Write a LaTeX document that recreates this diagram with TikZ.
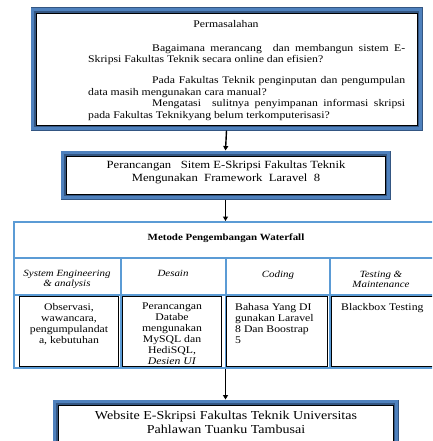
\documentclass[tikz,border=0pt]{standalone}
\usepackage{fontspec}
\setmainfont[FakeStretch=1.15]{Liberation Serif}
\usetikzlibrary{positioning,arrows.meta}
\definecolor{frameblue}{RGB}{79,129,189}
\definecolor{framedark}{RGB}{52,86,130}
\definecolor{wfblue}{RGB}{91,155,213}

\begin{document}
\begin{tikzpicture}[x=1pt,y=-1pt,
    framed/.style={draw=black,fill=white,line width=0.9pt,outer sep=5.5pt,
        preaction={draw=framedark,line width=11pt},
        preaction={draw=frameblue,line width=9.5pt},
        preaction={draw=framedark,line width=4pt}},
    wfline/.style={draw=wfblue,line width=2pt},
    cell/.style={draw=black,fill=white,line width=1pt,anchor=north west,inner sep=0pt},
    txt/.style={inner sep=0pt,font=\fontsize{10.2}{11}\selectfont},
    head/.style={txt,align=center,anchor=north,font=\fontsize{9.5}{10}\selectfont\itshape},
    flow/.style={line width=1.4pt,-{Triangle[length=4.5pt,width=5pt]}}]
    \useasboundingbox (0,0) rectangle (432,441);
    \clip (0,0) rectangle (432,441);
    \node[framed,minimum width=381pt,minimum height=112pt] (problem) at (226.5,69) {};
    \node[txt,anchor=north] (problem-title) at (226,20) {Permasalahan};
    \node[txt,anchor=north west,text width=317pt,align=justify,
        font=\fontsize{10.2}{11.5}\selectfont] (problem-text) at (88,44)
        {\hspace*{64pt}Bagaimana merancang\ \ dan membangun sistem E-\linebreak
        Skripsi Fakultas Teknik secara online dan efisien?\par\vspace{9.5pt}
        \hspace*{64pt}Pada Fakultas Teknik penginputan dan pengumpulan\linebreak
        data masih mengunakan cara manual?\par
        \hspace*{64pt}Mengatasi\ \ sulitnya penyimpanan informasi skripsi\linebreak
        pada Fakultas Teknikyang belum terkomputerisasi?};
    \node[framed,minimum width=319pt,minimum height=38pt] (design) at (225.5,175) {};
    \node[txt,align=center,anchor=north,font=\fontsize{11}{12.5}\selectfont] (design-text)
        at (226,161) {Perancangan\ \ \ Sitem E-Skripsi Fakultas Teknik\\
        Mengunakan\ \ Framework\ \ Laravel\ \ 8};
    \node[wfline,minimum width=446pt,minimum height=146pt,inner sep=0pt] (waterfall)
        at (237,295) {};
    \node[txt,anchor=north,font=\fontsize{9.5}{10}\selectfont\bfseries] (waterfall-title)
        at (226,234) {Metode Pengembangan Waterfall};
    \draw[wfline] (14,258) -- (460,258);
    \draw[wfline] (14,295) -- (460,295);
    \foreach \x in {121,226,330}
        \draw[wfline] (\x,258) -- (\x,368);
    \foreach \T/\x [count=\i] in {{System Engineering\\\& analysis}/67,Desain/173,
        Coding/278,{Testing \&\\Maintenance}/381}
        \node[head] (head-\i) at (\x,270.5) {\T};
    \foreach \x/\w [count=\i] in {19/99,122/99,226/101,331/120}
        \node[cell,minimum width=\w pt,minimum height=70pt] (cell-\i) at (\x,296) {};
    \node[txt,align=center,below=7pt of cell-1.north] (cell-1-text)
        {Observasi,\\wawancara,\\pengumpulandat\\a, kebutuhan};
    \node[txt,align=center,below=7pt of cell-2.north] (cell-2-text)
        {Perancangan\\Databe\\mengunakan\\MySQL dan\\HediSQL,\\\textit{Desien UI}};
    \node[txt,align=left,below right=7pt and 9pt of cell-3.north west] (cell-3-text)
        {Bahasa Yang DI\\gunakan Laravel\\8 Dan Boostrap\\5};
    \node[txt,align=left,below right=7pt and 10pt of cell-4.north west] (cell-4-text)
        {Blackbox Testing};
    \node[framed,minimum width=335pt,minimum height=70pt,anchor=north] (web) at (225.5,399.5) {};
    \node[txt,align=center,anchor=north,font=\fontsize{12.2}{14}\selectfont] (web-text)
        at (226,410.5) {Website E-Skripsi Fakultas Teknik Universitas\\
        Pahlawan Tuanku Tambusai};
    \draw[flow] (problem.south) -- (design.north);
    \draw[flow] (design.south) -- (design.south |- waterfall.north);
    \draw[flow] (waterfall.south -| web.north) -- (web.north);
\end{tikzpicture}
\end{document}
